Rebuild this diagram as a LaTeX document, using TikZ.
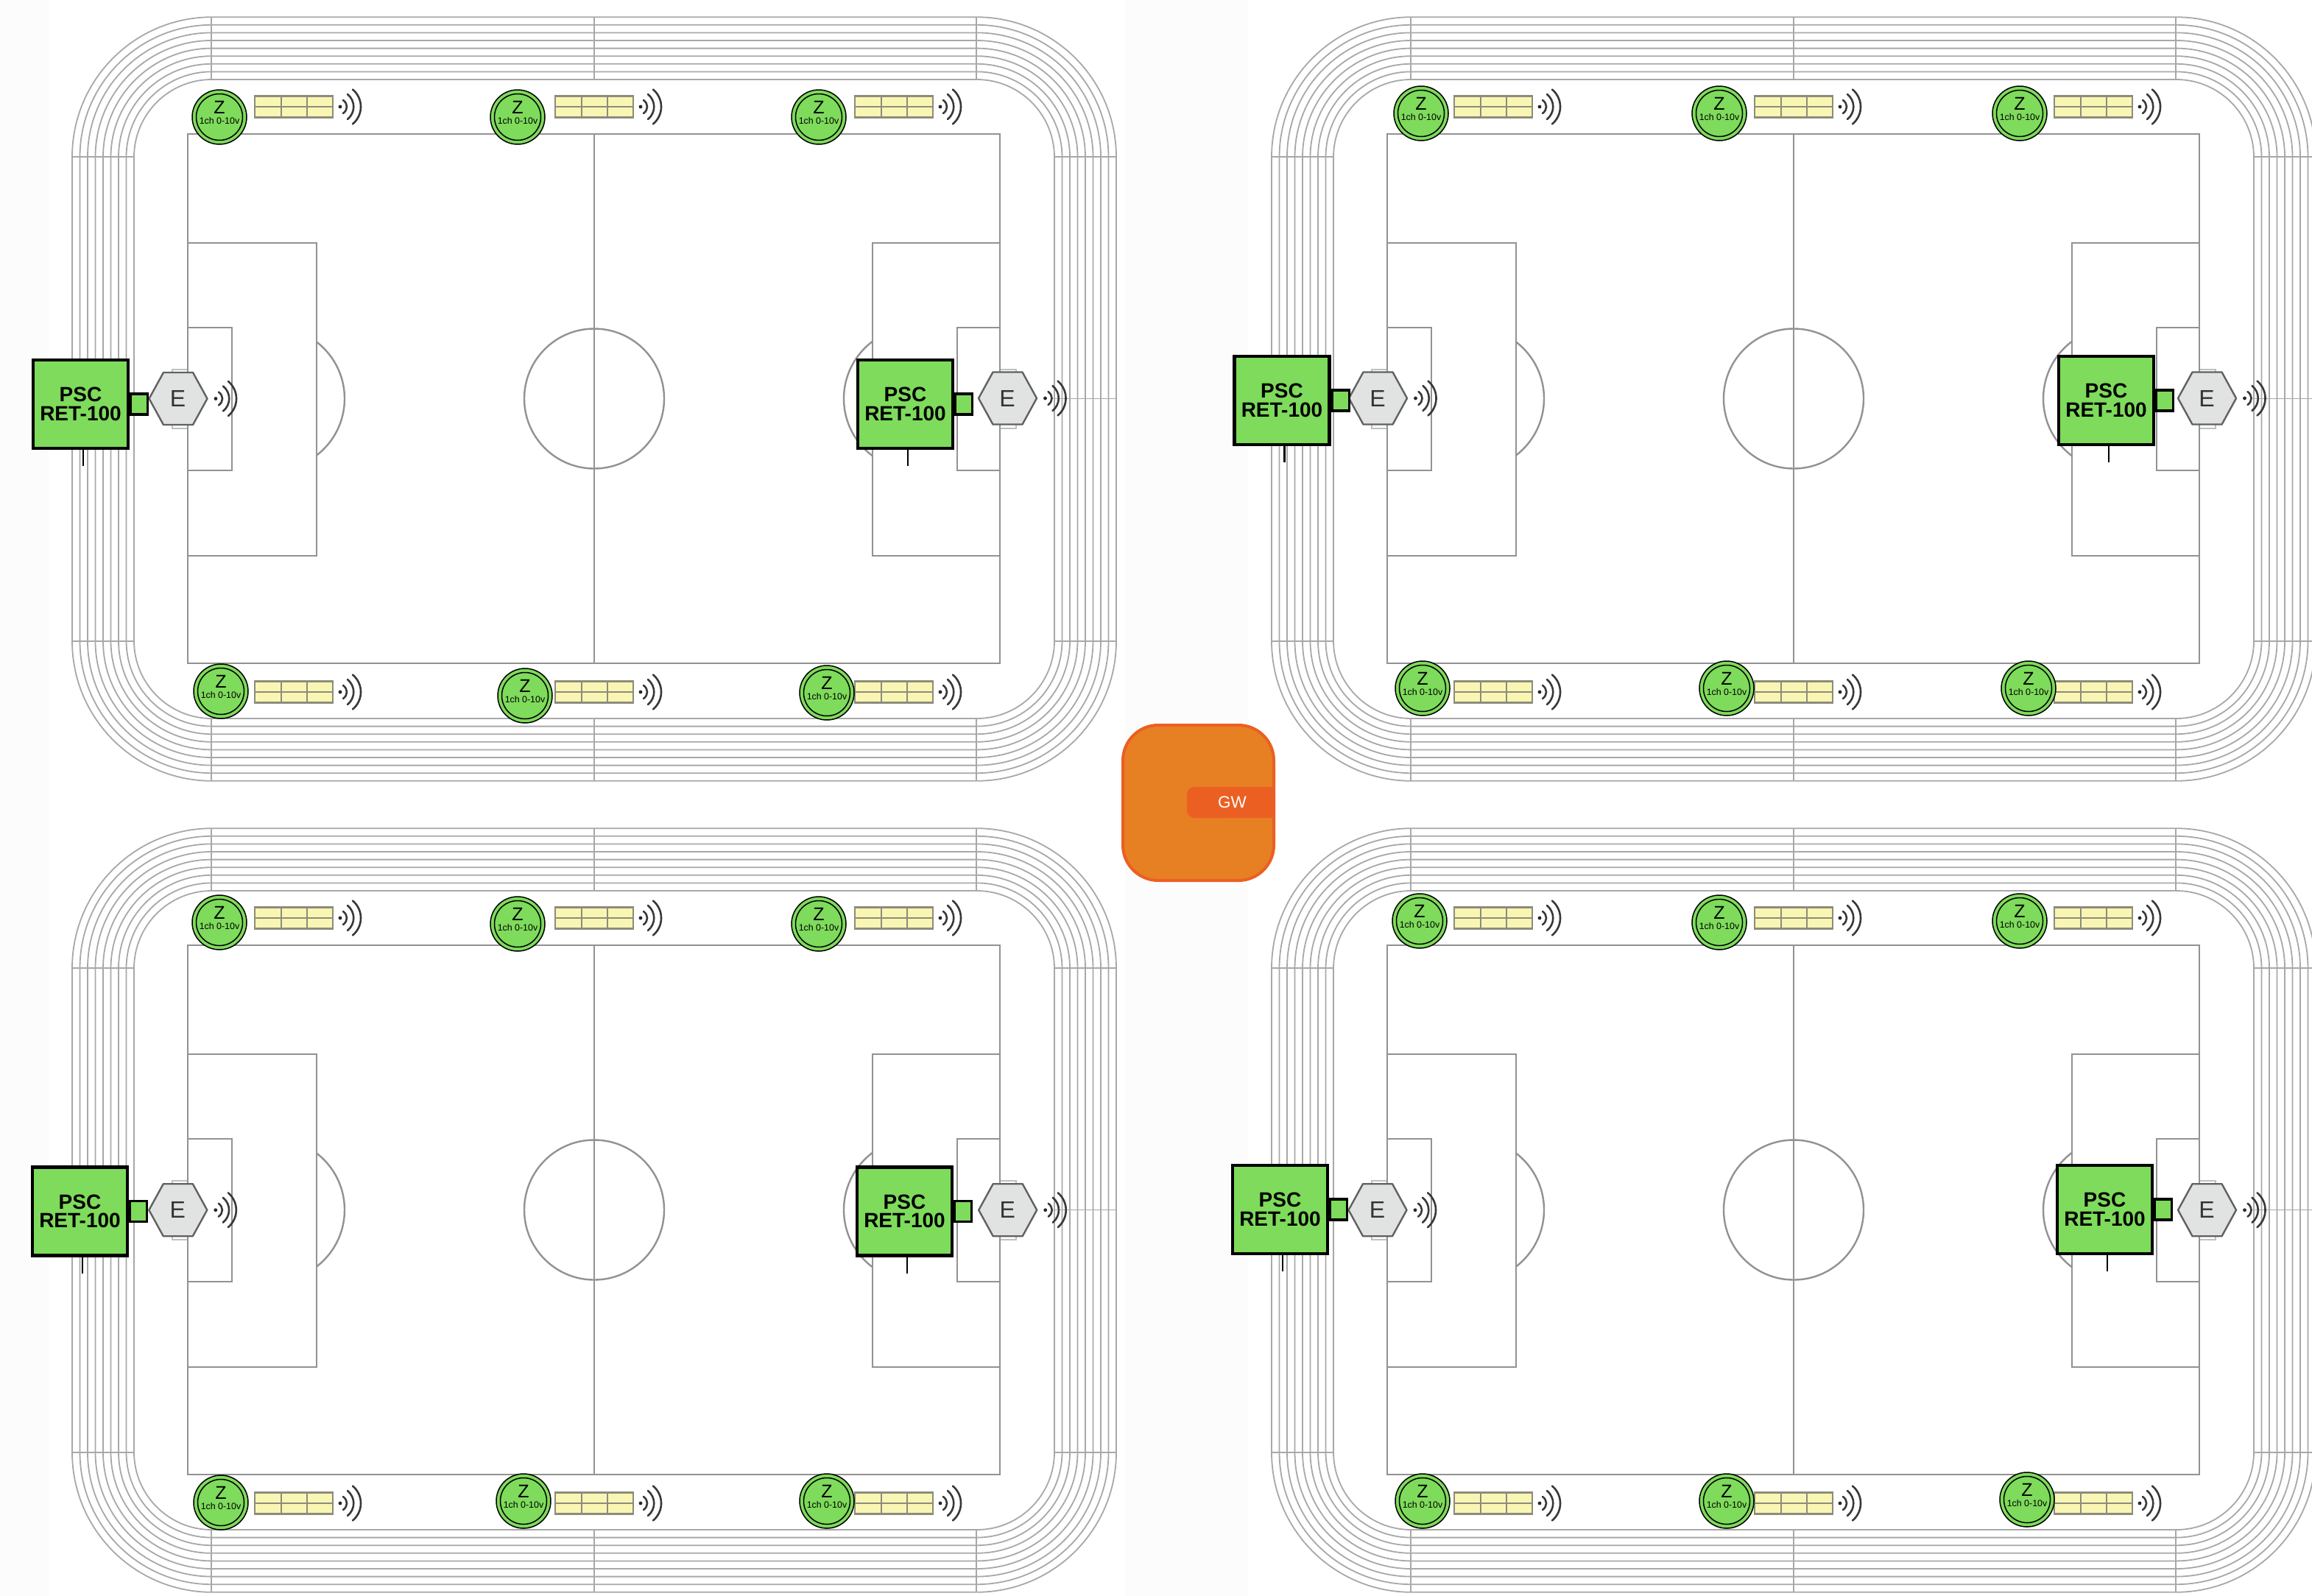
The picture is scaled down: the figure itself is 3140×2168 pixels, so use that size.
\documentclass[tikz,border=0pt]{standalone}
\usepackage{fontspec}
\setmainfont{Liberation Sans}
\definecolor{pscgreen}{HTML}{7EDB5B}
\definecolor{lampyellow}{HTML}{F9F6B4}
\definecolor{offwhite}{HTML}{FCFCFC}
\definecolor{trackgrey}{HTML}{A8A8A8}
\definecolor{fieldgrey}{HTML}{929292}
\definecolor{hexfill}{HTML}{E1E2E2}
\definecolor{gworange}{HTML}{E68023}
\definecolor{gwred}{HTML}{EC5F22}
\definecolor{barline}{HTML}{8C8C7C}
\tikzset{
  trackline/.style={draw=trackgrey,line width=1.8pt},
  fieldline/.style={draw=fieldgrey,line width=2.4pt},
  pscbox/.style={draw=black,fill=pscgreen,line width=4.6pt,minimum width=129pt,minimum height=120pt,inner sep=0pt,align=center,font=\fontsize{28}{25.5}\selectfont\bfseries},
  pscport/.style={draw=black,fill=pscgreen,line width=3.4pt,minimum width=23pt,minimum height=28pt,inner sep=0pt},
  zouter/.style={circle,draw=black,fill=pscgreen,line width=1.5pt,minimum size=74pt,inner sep=0pt},
  zinner/.style={circle,draw=black,line width=1.5pt,minimum size=63pt,inner sep=0pt},
  ehexpath/.style={draw=black!62,fill=hexfill,line width=2.4pt,line join=round},
  barcell/.style={draw=barline,fill=lampyellow,line width=2.5pt},
  wave/.style={draw=black!78,line width=2.6pt,line cap=round},
}
\newcommand{\zunit}[3]{%
  \node[zouter] (#1) at (#2,#3) {};
  \node[zinner] (#1i) at (#2,#3) {};
  \node[inner sep=0pt,font=\fontsize{25}{25}\selectfont] (#1t) at (#2,#3-13) {Z};
  \node[inner sep=0pt,font=\fontsize{12.4}{12.4}\selectfont] (#1s) at (#2,#3+5) {1ch 0-10v};
}
\newcommand{\lampbar}[3]{%
  \path[barcell] (#2,#3-14.5) rectangle (#2+106,#3+14.5);
  \draw[barcell] (#2+36,#3-14.5) -- (#2+36,#3+14.5) (#2+71,#3-14.5) -- (#2+71,#3+14.5) (#2,#3) -- (#2+106,#3);
  \coordinate (#1) at (#2,#3);
}
\newcommand{\wifi}[2]{%
  \fill[black!85] (#1,#2) circle[radius=2.4];
  \draw[wave] (#1+4,#2-9) .. controls (#1+10.7,#2-4) and (#1+10.7,#2+4) .. (#1+4,#2+9);
  \draw[wave] (#1+10,#2-17) .. controls (#1+21,#2-8) and (#1+21,#2+8) .. (#1+10,#2+17);
  \draw[wave] (#1+17,#2-23.5) .. controls (#1+31.7,#2-11) and (#1+31.7,#2+11) .. (#1+17,#2+23.5);
}
\newcommand{\ehex}[3]{%
  \path[ehexpath] (#2-39.5,#3) -- (#2-20,#3-35.5) -- (#2+20,#3-35.5) -- (#2+39.5,#3) -- (#2+20,#3+35.5) -- (#2-20,#3+35.5) -- cycle;
  \node[inner sep=0pt,text=black!80,font=\fontsize{32}{32}\selectfont] (#1) at (#2-0.5,#3) {E};
}
\newcommand{\pscunit}[3]{%
  \draw[black,line width=2.4pt] (#2+3.5,#3+60) -- (#2+3.5,#3+84);
  \node[pscbox] (#1) at (#2,#3) {PSC\\RET-100};
  \node[pscport,anchor=west] (#1p) at (#2+66.5,#3) {};
}
\begin{document}
\begin{tikzpicture}[x=1pt,y=-1pt]
\useasboundingbox (0,0) rectangle (3140,2168);
\clip (0,0) rectangle (3140,2168);
\fill[white] (0,0) rectangle (3140,2168);
\fill[offwhite] (0,0) rectangle (66,2168);
\fill[offwhite] (1528,0) rectangle (1695,2168);
% fields
\foreach \dx/\dy in {0/0,1629/0,0/1102,1629/1102}{
  \begin{scope}[shift={(\dx,\dy)}]
    \foreach \i in {0,...,8}{
      \pgfmathsetmacro{\dl}{\i*10.5}
      \pgfmathsetmacro{\dt}{\i*10.6}
      \pgfmathsetmacro{\rr}{105.5+\i*10.55}
      \draw[trackline,rounded corners=\rr pt] (182-\dl,108-\dt) rectangle (1432+\dl,976+\dt);
    }
    \draw[trackline] (287,23) -- (287,108) (807,23) -- (807,108) (1326,23) -- (1326,108);
    \draw[trackline] (287,976) -- (287,1061) (807,976) -- (807,1061) (1326,976) -- (1326,1061);
    \draw[trackline] (98,213) -- (182,213) (98,871) -- (182,871) (1432,213) -- (1516,213) (1432,871) -- (1516,871);
    \draw[trackline] (98,541.5) -- (182,541.5) (1432,541.5) -- (1516,541.5);
    \draw[draw=black!25,line width=2pt] (234,502) rectangle (255,582) (1358,502) rectangle (1380,582);
    \draw[fieldline] (255,182) rectangle (1358,901);
    \draw[fieldline] (807,182) -- (807,901);
    \draw[fieldline] (807,541.5) circle[radius=95];
    \draw[fieldline] (255,330) rectangle (430,755);
    \draw[fieldline] (1185,330) rectangle (1358,755);
    \draw[fieldline] (255,445) rectangle (315,639);
    \draw[fieldline] (1300,445) rectangle (1358,639);
    \begin{scope}
      \clip (430,400) rectangle (520,700);
      \draw[fieldline] (371,541.5) circle[radius=97];
    \end{scope}
    \begin{scope}
      \clip (1100,400) rectangle (1185,700);
      \draw[fieldline] (1243,541.5) circle[radius=97];
    \end{scope}
    \foreach \bx in {346,754,1161}{
      \lampbar{}{\bx}{145}
      \wifi{\bx+116}{145}
      \lampbar{}{\bx}{940}
      \wifi{\bx+116}{940}
    }
  \end{scope}
}
% Z controllers
\foreach \n/\x/\y in {
  za/298/159,zb/703/159,zc/1112/159,zd/300/939,ze/713/945,zf/1123/941,
  zg/1930/154,zh/2335/154,zi/2743/154,zj/1932/935,zk/2345/935,zl/2755/935,
  zm/298/1253,zn/703/1255,zo/1112/1255,zp/300/2041,zq/711/2039,zr/1123/2039,
  zs/1928/1251,zt/2335/1253,zu/2743/1251,zv/1932/2039,zw/2345/2039,zx/2753/2037}{
  \zunit{\n}{\x}{\y}
}
% E hexagons and wave marks
\foreach \n/\x/\y in {ea/242/541.5,eb/1368.5/541,ec/1871.5/541,ed/2997.5/541,ee/241.8/1643.7,ef/1368.7/1643.7,eg/1871/1643.7,eh/2997.5/1643.7}{
  \ehex{\n}{\x}{\y}
  \wifi{\x+51}{\y}
}
% PSC units
\foreach \n/\x/\y in {pa/109.5/549,pb/1229.5/549,pc/1741/544,pd/2860.5/544,pe/108.5/1645.5,pf/1228.5/1645.5,pg/1738.5/1643,ph/2858.5/1643}{
  \pscunit{\n}{\x}{\y}
}
% gateway
\draw[draw=gwred,fill=gworange,line width=4pt,rounded corners=48pt] (1525,985) rectangle (1730,1196);
\fill[gwred,rounded corners=10pt] (1612,1069) rectangle (1670,1111);
\fill[gwred] (1640,1069) rectangle (1732,1111);
\node[text=white,inner sep=0pt,font=\fontsize{22.5}{22.5}\selectfont] (gw) at (1673.5,1090) {GW};
\end{tikzpicture}
\end{document}
